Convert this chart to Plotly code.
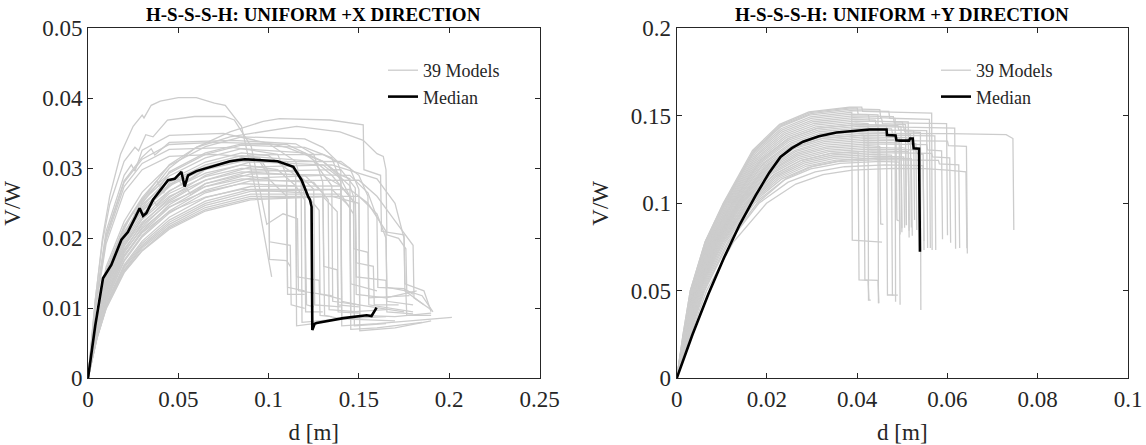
import plotly.graph_objects as go

# ---------------- DATA ----------------
TITLE_X = "H-S-S-S-H: UNIFORM +X DIRECTION"
TITLE_Y = "H-S-S-S-H: UNIFORM +Y DIRECTION"
X_LABEL = "d [m]"
Y_LABEL = "V/W"
LEGEND_MODELS = "39 Models"
LEGEND_MEDIAN = "Median"

X_TICKS_LEFT = [0, 0.05, 0.1, 0.15, 0.2, 0.25]
X_TICKTEXT_LEFT = ["0", "0.05", "0.1", "0.15", "0.2", "0.25"]
Y_TICKS_LEFT = [0, 0.01, 0.02, 0.03, 0.04, 0.05]
Y_TICKTEXT_LEFT = ["0", "0.01", "0.02", "0.03", "0.04", "0.05"]
X_TICKS_RIGHT = [0, 0.02, 0.04, 0.06, 0.08, 0.1]
X_TICKTEXT_RIGHT = ["0", "0.02", "0.04", "0.06", "0.08", "0.1"]
Y_TICKS_RIGHT = [0, 0.05, 0.1, 0.15, 0.2]
Y_TICKTEXT_RIGHT = ["0", "0.05", "0.1", "0.15", "0.2"]

# +X direction: 39 model curves (displacement d, base shear V/W)
X_MODEL_D = [
    [0, .004, .008, .012, .018, .025, .03, .031, .035, .04, .05, .06, .07, .076, .085, .094, .1017],
    [0, .004, .008, .012, .02, .026, .028, .032, .036, .044, .059, .0757, .081, .0904, .099, .108, .116, .1165, .13, .14],
    [0, .005, .01, .02, .03, .045, .06, .0786, .097, .106, .134, .1488, .1524, .1528, .162, .1625, .175, .1755, .186, .19],
    [0, .005, .01, .02, .03, .045, .06, .0786, .1155, .1395, .1524, .16, .1635, .165, .1655, .172, .176, .1765, .185, .191],
    [0, .004, .01, .02, .024, .026, .03, .045, .075, .11, .13, .14, .145, .1455, .16],
    [0, .005, .01, .02, .03, .045, .065, .085, .12, .13, .138, .14, .1405, .15, .175],
    [0, .004, .01, .02, .03, .035, .037, .045, .08, .115, .125, .13, .131, .14, .165],
    [0, .004, .01, .02, .03, .045, .07, .1, .115, .12, .121, .125],
    [0, .005, .01, .02, .03, .038, .04, .045, .065, .085, .11, .13, .145, .147, .1472, .155, .1555, .18],
    [0, .005, .01, .02, .03, .045, .065, .085, .12, .135, .14, .1405, .16, .2015],
    [0, .004, .01, .02, .03, .045, .08, .105, .11, .1105, .12],
    [0, .005, .01, .02, .025, .027, .03, .045, .065, .085, .12, .135, .148, .1485, .165, .182],
    [0, .005, .01, .02, .03, .045, .065, .09, .13, .145, .15, .1505, .17, .19],
    [0, .005, .01, .02, .03, .045, .065, .085, .1, .115, .1155, .128, .1285, .135],
    [0, .004, .01, .02, .03, .045, .07, .095, .1, .1005, .11, .112],
    [0, .005, .01, .02, .03, .04, .042, .045, .065, .085, .125, .135, .1355, .15],
    [0, .005, .01, .02, .03, .045, .065, .09, .14, .15, .155, .1555, .178],
    [0, .005, .01, .02, .03, .045, .065, .085, .11, .118, .1185, .14],
    [0, .005, .01, .02, .03, .045, .05, .052, .065, .085, .13, .14, .145, .1455, .165],
    [0, .005, .01, .02, .03, .045, .065, .09, .135, .16, .17, .175, .1755, .186],
    [0, .005, .01, .02, .03, .045, .065, .085, .105, .115, .1155, .125],
    [0, .005, .01, .02, .03, .045, .065, .09, .14, .148, .1485, .165, .1655, .18],
    [0, .005, .01, .02, .03, .036, .038, .045, .065, .085, .115, .125, .1255, .14],
    [0, .005, .01, .02, .03, .045, .065, .09, .145, .155, .16, .1605, .175, .18],
    [0, .005, .01, .02, .03, .045, .065, .085, .12, .13, .1305, .138, .1385, .15],
    [0, .005, .01, .02, .03, .045, .065, .09, .13, .14, .1405, .17],
    [0, .005, .01, .02, .03, .045, .055, .057, .065, .085, .1, .11, .1105, .12],
    [0, .005, .01, .02, .03, .045, .065, .09, .15, .16, .17, .18, .1805, .19],
    [0, .005, .01, .02, .03, .045, .065, .085, .125, .133, .1335, .15],
    [0, .005, .01, .02, .03, .045, .065, .09, .14, .148, .1485, .158, .1585, .172],
    [0, .005, .01, .02, .03, .045, .065, .085, .115, .12, .1205, .13],
    [0, .005, .01, .02, .03, .045, .065, .09, .135, .145, .1455, .16, .185],
    [0, .005, .01, .02, .03, .045, .065, .09, .145, .155, .165, .1655, .18],
    [0, .005, .01, .02, .03, .045, .065, .085, .12, .128, .1285, .135],
    [0, .005, .01, .02, .03, .045, .065, .09, .14, .147, .1475, .165],
    [0, .005, .01, .02, .03, .045, .065, .09, .15, .16, .165, .1655, .176, .1765, .19],
    [0, .005, .01, .02, .03, .045, .065, .09, .13, .138, .1385, .15],
    [0, .005, .01, .02, .03, .045, .065, .09, .135, .15, .1505, .17, .19],
    [0, .005, .01, .02, .03, .045, .065, .085, .095, .1, .1005, .112, .1125, .12],
]
X_MODEL_V = [
    [0, .011, .02, .026, .032, .036, .0376, .0372, .039, .0396, .0401, .0401, .0393, .039, .036, .0255, .0145],
    [0, .0112, .0195, .0248, .031, .033, .0325, .0348, .0345, .0369, .0374, .0374, .0369, .0331, .022, .0235, .0228, .0125, .012, .0113],
    [0, .0075, .013, .02, .025, .030, .033, .0352, .0367, .0371, .0369, .0364, .0362, .0298, .029, .021, .0205, .0135, .0125, .0095],
    [0, .008, .0135, .0205, .0255, .0305, .033, .0345, .036, .0352, .034, .0321, .0317, .0298, .0205, .02, .0185, .0125, .0118, .0095],
    [0, .0105, .021, .029, .0305, .0296, .0326, .0347, .035, .033, .031, .029, .0285, .0135, .0125],
    [0, .0093, .0159, .0224, .0266, .0304, .0331, .0345, .0342, .033, .031, .0295, .011, .0105, .0095],
    [0, .0102, .0204, .0282, .0316, .0328, .0319, .0337, .034, .0335, .032, .028, .009, .0085, .0088],
    [0, .0101, .0202, .028, .0313, .0334, .0337, .0335, .031, .026, .0105, .0102],
    [0, .009, .0154, .0218, .0258, .0282, .0274, .0295, .0322, .0335, .0334, .031, .0275, .026, .0185, .018, .0105, .0095],
    [0, .009, .0153, .0216, .0256, .0293, .032, .0333, .033, .0315, .028, .0075, .0078, .0087],
    [0, .0099, .0198, .0274, .0307, .0327, .033, .032, .029, .013, .0125],
    [0, .0089, .0151, .0213, .0238, .0229, .0253, .0289, .0315, .0328, .0322, .029, .025, .012, .0115, .0125],
    [0, .0072, .0124, .0189, .0228, .0267, .0299, .0319, .032, .030, .027, .009, .0088, .0093],
    [0, .0087, .0148, .0209, .0248, .0283, .0309, .0322, .0318, .029, .0145, .014, .009, .0088],
    [0, .0096, .0192, .0266, .0298, .0317, .032, .0315, .0295, .017, .0168, .016],
    [0, .0086, .0146, .0207, .0245, .0273, .0265, .028, .0305, .0318, .031, .0275, .011, .0105],
    [0, .0069, .012, .0183, .0221, .0258, .029, .0309, .031, .029, .026, .0115, .0118],
    [0, .0084, .0144, .0203, .024, .0275, .03, .0312, .031, .0285, .008, .0085],
    [0, .0084, .0143, .0202, .0239, .0273, .0285, .0276, .0298, .031, .0305, .0285, .026, .0095, .0098],
    [0, .0068, .0117, .0179, .0216, .0253, .0283, .0302, .0305, .0285, .025, .02, .0125, .0105],
    [0, .0082, .014, .0198, .0235, .0268, .0293, .0305, .0298, .0275, .0075, .0078],
    [0, .0066, .0115, .0175, .0211, .0248, .0278, .0296, .0298, .0272, .0145, .014, .0095, .0092],
    [0, .0081, .0138, .0195, .0231, .0255, .0247, .0264, .0288, .030, .0295, .027, .0105, .0102],
    [0, .0066, .0113, .0173, .0209, .0244, .0274, .0292, .029, .0265, .023, .013, .0128, .012],
    [0, .008, .0136, .0192, .0227, .026, .0283, .0295, .029, .0265, .016, .0155, .0095, .0093],
    [0, .0064, .0111, .0169, .0204, .0239, .0269, .0286, .029, .0275, .0085, .0082],
    [0, .0078, .0133, .0189, .0223, .0255, .027, .0262, .0278, .029, .0285, .026, .012, .012],
    [0, .0063, .0109, .0167, .0202, .0236, .0265, .0282, .0283, .026, .0225, .019, .0115, .0098],
    [0, .0077, .0131, .0185, .0219, .0251, .0274, .0285, .028, .0255, .0098, .0095],
    [0, .0062, .0106, .0162, .0196, .023, .0258, .0274, .0275, .025, .0165, .016, .0105, .0105],
    [0, .0075, .0128, .0181, .0214, .0245, .0267, .0278, .0275, .0255, .0095, .0095],
    [0, .0061, .0105, .016, .0193, .0226, .0253, .027, .027, .0245, .007, .0072, .008],
    [0, .006, .0103, .0158, .019, .0223, .025, .0267, .027, .025, .021, .011, .0105],
    [0, .0073, .0124, .0176, .0208, .0238, .0259, .027, .0265, .024, .012, .0118],
    [0, .0059, .0102, .0155, .0188, .022, .0247, .0263, .0263, .0235, .0075, .0078],
    [0, .0058, .0101, .0154, .0186, .0217, .0244, .026, .026, .0235, .02, .013, .0125, .009, .009],
    [0, .0058, .01, .0152, .0183, .0215, .0241, .0257, .026, .0238, .0105, .0102],
    [0, .0057, .0099, .0151, .0182, .0213, .0239, .0255, .026, .025, .0068, .0072, .0082],
    [0, .0085, .0145, .0205, .0243, .0277, .0302, .0315, .031, .029, .0195, .019, .0105, .01],
]
X_MEDIAN_D = [0, .004, .0083, .0129, .0185, .0221, .0262, .0286, .0305, .0323, .036, .040, .0443, .048,
              .0517, .0535, .0554, .06, .0683, .0786, .0868, .095, .105, .1137, .1183, .122, .1229, .1238,
              .1242, .1255, .1266, .1414, .1543, .157, .1598]
X_MEDIAN_V = [0, .0075, .0143, .0162, .0198, .0209, .023, .0243, .0232, .0236, .0255, .0268, .0283, .0285,
              .0295, .0274, .029, .0296, .0302, .031, .0313, .0312, .031, .0302, .0283, .0259, .0255, .0245,
              .0069, .0078, .0079, .0086, .009, .0089, .0101]

# +Y direction: 39 model curves
Y_MODEL_D = [
    [0, .0014, .003, .0063, .0103, .0168, .0228, .0293, .0383, .041, .0412, .0467, .0469, .0565, .0566],
    [0, .0015, .0031, .0064, .0105, .017, .023, .0295, .0385, .040, .0402, .0446, .0447],
    [0, .0015, .0032, .0066, .0107, .0172, .0232, .0297, .0387, .045, .0452, .0484, .0485],
    [0, .0014, .003, .0063, .0104, .0169, .0229, .0294, .0384, .047, .0472, .056, .0562],
    [0, .0015, .0031, .0065, .0106, .0171, .0231, .0296, .0386, .0388, .0389, .0455],
    [0, .0015, .0032, .0066, .0108, .0173, .0233, .0298, .0388, .0425, .0427, .0513, .0515],
    [0, .0016, .0033, .0068, .011, .0175, .0235, .030, .039, .048, .0482, .0598, .060],
    [0, .0016, .0034, .0069, .0112, .0177, .0237, .0302, .0392, .0454, .0456, .0507, .0509],
    [0, .0016, .0035, .0071, .0114, .0179, .0239, .0304, .0394, .044, .0442, .0497, .0499],
    [0, .0016, .0035, .0071, .0116, .0181, .0241, .0306, .0396, .050, .0502, .0616, .0618],
    [0, .0017, .0036, .0073, .0118, .0183, .0243, .0308, .0398, .0424, .0425, .043],
    [0, .0017, .0036, .0074, .012, .0185, .0245, .031, .040, .049, .0492, .0525, .0527],
    [0, .0017, .0037, .0075, .0122, .0187, .0247, .0312, .0402, .0465, .0467, .048],
    [0, .0017, .0037, .0076, .0123, .0188, .0248, .0313, .0403, .0503, .0505, .054, .0541],
    [0, .0018, .0038, .0077, .0125, .019, .025, .0315, .0405, .0476, .0478, .0518, .052],
    [0, .0018, .0039, .0079, .0127, .0192, .0252, .0317, .0407, .0554, .0556],
    [0, .0018, .0039, .0079, .0128, .0193, .0253, .0318, .0408, .0462, .0464, .0493, .0495],
    [0, .0019, .004, .0081, .013, .0195, .0255, .032, .041, .058, .0605, .073, .0745, .0747],
    [0, .0019, .0041, .0082, .0132, .0197, .0257, .0322, .0412, .0572, .0574],
    [0, .002, .0042, .0083, .0134, .0199, .0259, .0324, .0414, .0415, .0417, .0446, .0448],
    [0, .002, .0042, .0084, .0135, .02, .026, .0325, .0415, .051, .0512, .053, .0532],
    [0, .002, .0043, .0085, .0137, .0202, .0262, .0327, .0417, .0486, .0488, .0492],
    [0, .002, .0043, .0086, .0138, .0203, .0263, .0328, .0418, .060, .0602, .0642, .0644],
    [0, .0021, .0044, .0087, .014, .0205, .0265, .033, .042, .0493, .0495, .0507, .0509],
    [0, .0021, .0045, .0089, .0142, .0207, .0267, .0332, .0422, .0554, .0556, .0587, .0589],
    [0, .0021, .0045, .0089, .0143, .0208, .0268, .0333, .0423, .045, .0452, .0458],
    [0, .0022, .0046, .0091, .0145, .021, .027, .0335, .0425, .0497, .0499],
    [0, .0022, .0047, .0092, .0147, .0212, .0272, .0337, .0427, .053, .0532, .0546, .0548],
    [0, .0023, .0048, .0094, .015, .0215, .0275, .034, .0402, .0404, .0424, .0426],
    [0, .0023, .0049, .0095, .0152, .0217, .0277, .0342, .0432, .0513, .0515],
    [0, .0024, .005, .0097, .0155, .022, .028, .0345, .0435, .0565, .0567, .0605, .0607],
    [0, .0024, .0051, .0099, .0157, .0222, .0282, .0347, .0437, .0476, .0478, .049],
    [0, .0024, .0052, .0101, .016, .0225, .0285, .035, .044, .0503, .0505],
    [0, .0025, .0054, .0103, .0163, .0228, .0288, .0353, .0443, .052, .0522],
    [0, .0026, .0056, .0106, .0167, .0232, .0292, .0357, .0447, .058, .0582, .0625, .0627],
    [0, .0027, .0058, .0109, .0172, .0237, .0297, .0362, .0452, .0493, .0495],
    [0, .0029, .0062, .0116, .0182, .0247, .0307, .0372, .0462, .0546, .0548],
    [0, .0031, .0066, .0126, .0199, .0264, .0324, .0389, .0479, .055, .06, .0641, .0643],
    [0, .0028, .006, .0113, .0178, .0243, .0303, .0368, .0458, .0513, .0515],
]
Y_MODEL_V = [
    [0, .025, .05, .078, .1, .1303, .1451, .1523, .155, .155, .1525, .1522, .152, .1515, .0733],
    [0, .025, .05, .078, .1, .13, .1447, .1518, .1545, .1545, .151, .1505, .0429],
    [0, .025, .05, .078, .1, .1297, .1443, .1513, .154, .1535, .149, .1485, .0438],
    [0, .025, .05, .078, .1, .1292, .1435, .1504, .153, .1525, .1486, .148, .0745],
    [0, .025, .05, .078, .1, .1286, .1426, .1494, .152, .152, .079, .0778],
    [0, .025, .05, .078, .1, .1281, .1418, .1485, .151, .1505, .147, .1465, .0805],
    [0, .025, .05, .078, .1, .1275, .141, .1475, .150, .1495, .146, .1455, .0817],
    [0, .025, .05, .078, .1, .127, .1402, .1466, .149, .1485, .1455, .145, .0876],
    [0, .025, .05, .078, .1, .1264, .1394, .1456, .148, .1475, .1445, .144, .0835],
    [0, .025, .05, .078, .1, .1259, .1385, .1447, .147, .1465, .1435, .143, .074],
    [0, .025, .05, .078, .1, .1253, .1377, .1437, .146, .1455, .0447, .0447],
    [0, .025, .05, .078, .1, .1248, .1369, .1428, .145, .1445, .142, .1415, .0905],
    [0, .025, .05, .078, .1, .1248, .1369, .1428, .145, .1445, .0476, .0476],
    [0, .025, .05, .078, .1, .1242, .1361, .1418, .144, .1435, .141, .1405, .039],
    [0, .025, .05, .078, .1, .1237, .1353, .1409, .143, .1425, .14, .1395, .0862],
    [0, .025, .05, .078, .1, .1231, .1344, .1399, .142, .1415, .0745],
    [0, .025, .05, .078, .1, .1226, .1336, .139, .141, .1405, .138, .1375, .0822],
    [0, .025, .05, .078, .1, .122, .1328, .138, .140, .1398, .1398, .1392, .137, .0847],
    [0, .025, .05, .078, .1, .1215, .132, .1371, .139, .1385, .0733],
    [0, .025, .05, .078, .1, .1215, .132, .1371, .139, .1388, .0562, .056, .0429],
    [0, .025, .05, .078, .1, .1209, .1312, .1361, .138, .1375, .1345, .134, .0848],
    [0, .025, .05, .078, .1, .1204, .1303, .1352, .137, .1365, .0905, .090],
    [0, .025, .05, .078, .1, .1198, .1295, .1342, .136, .1355, .133, .1325, .0713],
    [0, .025, .05, .078, .1, .1193, .1287, .1333, .135, .1345, .132, .1315, .0875],
    [0, .025, .05, .078, .1, .1187, .1279, .1323, .134, .1335, .1305, .130, .0795],
    [0, .025, .05, .078, .1, .1182, .1271, .1314, .133, .1325, .0882, .088],
    [0, .025, .05, .078, .1, .1176, .1262, .1304, .132, .1315, .0858],
    [0, .025, .05, .078, .1, .1171, .1254, .1295, .131, .1305, .1285, .128, .0733],
    [0, .025, .05, .078, .1, .1165, .1246, .1285, .1295, .0562, .056, .0447],
    [0, .025, .05, .078, .1, .1165, .1246, .1285, .130, .1295, .0843],
    [0, .025, .05, .078, .1, .116, .1238, .1276, .129, .1285, .1265, .126, .0775],
    [0, .025, .05, .078, .1, .1154, .123, .1266, .128, .1275, .0476, .0475],
    [0, .025, .05, .078, .1, .1149, .1221, .1257, .127, .1265, .086],
    [0, .025, .05, .078, .1, .1143, .1213, .1247, .126, .1255, .0815],
    [0, .025, .05, .078, .1, .1138, .1205, .1238, .125, .1245, .1225, .122, .0745],
    [0, .025, .05, .078, .1, .1132, .1197, .1228, .124, .1235, .042],
    [0, .025, .05, .078, .1, .1121, .118, .1209, .122, .1215, .0785],
    [0, .025, .05, .078, .1, .111, .1164, .119, .120, .1198, .119, .118, .0743],
    [0, .025, .05, .078, .1, .1143, .1213, .1247, .126, .1255, .0905],
]
Y_MEDIAN_D = [0, .0035, .007, .0105, .014, .0175, .0205, .023, .0255, .028, .0315, .0354, .0428, .0465,
              .0466, .0485, .0487, .0495, .0515, .0517, .0523, .0525, .0537, .0539]
Y_MEDIAN_V = [0, .025, .048, .069, .088, .1045, .1175, .1265, .1315, .1352, .1383, .1405, .1422, .1422,
              .139, .1388, .136, .1358, .1358, .137, .137, .1314, .1312, .0723]

# ---------------- STYLE ----------------
W, H = 1146, 445
FONT = "Times New Roman, Liberation Serif, DejaVu Serif, serif"
AX_COLOR = "#262626"
GRAY = "#cccccc"

for a, b in [(X_MODEL_D, X_MODEL_V), (Y_MODEL_D, Y_MODEL_V)]:
    if len(a) != len(b):
        raise ValueError("curve count mismatch")
    for i, (da, vb) in enumerate(zip(a, b)):
        if len(da) != len(vb):
            raise ValueError(f"length mismatch in curve {i}: {len(da)} vs {len(vb)}")

fig = go.Figure()


def add_panel(D, V, MD, MV, xa, ya, leg):
    for i, (d, v) in enumerate(zip(D, V)):
        fig.add_trace(go.Scatter(x=d, y=v, mode="lines", xaxis=xa, yaxis=ya,
                                 line=dict(color=GRAY, width=1.3),
                                 name=LEGEND_MODELS, legend=leg, legendgroup=leg + "m",
                                 showlegend=(i == 0), hoverinfo="skip"))
    fig.add_trace(go.Scatter(x=MD, y=MV, mode="lines", xaxis=xa, yaxis=ya,
                             line=dict(color="black", width=2.6),
                             name=LEGEND_MEDIAN, legend=leg, showlegend=True))


add_panel(X_MODEL_D, X_MODEL_V, X_MEDIAN_D, X_MEDIAN_V, "x", "y", "legend")
add_panel(Y_MODEL_D, Y_MODEL_V, Y_MEDIAN_D, Y_MEDIAN_V, "x2", "y2", "legend2")

XD1 = [88 / W, 539.5 / W]
XD2 = [676.7 / W, 1128 / W]
YD = [(H - 378.3) / H, (H - 28.3) / H]


def axis(domain, rng, tv, tt, anchor, title=None):
    d = dict(domain=domain, range=rng, tickvals=tv, ticktext=tt, anchor=anchor,
             showline=True, linecolor=AX_COLOR, linewidth=1, mirror="ticks",
             ticks="inside", ticklen=5, tickcolor=AX_COLOR, showgrid=False, zeroline=False,
             tickfont=dict(family=FONT, size=23, color=AX_COLOR), automargin=False)
    if title:
        d["title"] = dict(text=title, font=dict(family=FONT, size=23, color=AX_COLOR))
    return d


fig.update_layout(
    width=W, height=H, margin=dict(l=0, r=0, t=0, b=0),
    paper_bgcolor="white", plot_bgcolor="white",
    font=dict(family=FONT, color=AX_COLOR),
    xaxis=axis(XD1, [0, 0.25], X_TICKS_LEFT, X_TICKTEXT_LEFT, "y", X_LABEL),
    yaxis=axis(YD, [0, 0.05], Y_TICKS_LEFT, Y_TICKTEXT_LEFT, "x", Y_LABEL),
    xaxis2=axis(XD2, [0, 0.1], X_TICKS_RIGHT, X_TICKTEXT_RIGHT, "y2", X_LABEL),
    yaxis2=axis(YD, [0, 0.2], Y_TICKS_RIGHT, Y_TICKTEXT_RIGHT, "x2", Y_LABEL),
    legend=dict(x=383 / W, y=1 - 52 / H, xanchor="left", yanchor="top",
                bgcolor="rgba(0,0,0,0)", font=dict(family=FONT, size=18, color=AX_COLOR),
                tracegroupgap=0),
    legend2=dict(x=936 / W, y=1 - 52 / H, xanchor="left", yanchor="top",
                 bgcolor="rgba(0,0,0,0)", font=dict(family=FONT, size=18, color=AX_COLOR),
                 tracegroupgap=0),
    annotations=[
        dict(text="<b>" + TITLE_X + "</b>", x=(XD1[0] + XD1[1]) / 2, y=1 - 15 / H,
             xref="paper", yref="paper", showarrow=False, xanchor="center", yanchor="middle",
             font=dict(family=FONT, size=19, color="black")),
        dict(text="<b>" + TITLE_Y + "</b>", x=(XD2[0] + XD2[1]) / 2, y=1 - 15 / H,
             xref="paper", yref="paper", showarrow=False, xanchor="center", yanchor="middle",
             font=dict(family=FONT, size=19, color="black")),
    ],
)

fig.write_html("out.html")
